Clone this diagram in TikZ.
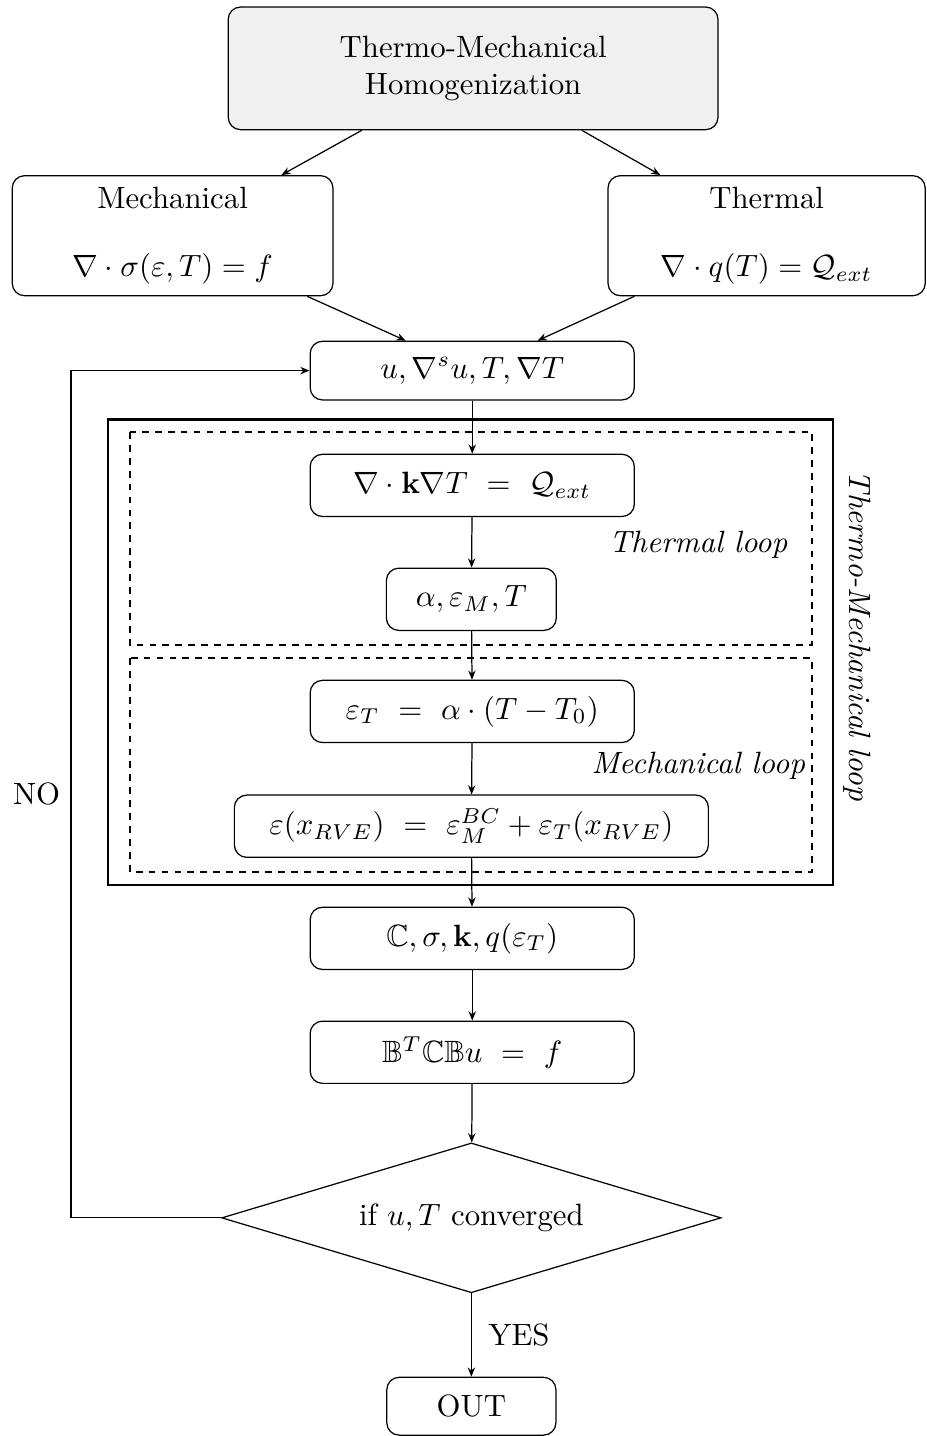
\documentclass[tikz,border=0pt]{standalone}
\usepackage{amsmath,amssymb}
\usepackage{tikz}
\usetikzlibrary{arrows.meta, shapes.geometric, positioning, calc}
\definecolor{boxgray}{HTML}{F0F0F0}

\begin{document}
\begin{tikzpicture}[
    block/.style={draw, rounded corners, align=center, minimum width=3.7cm, minimum height=0.71cm},
    decision/.style={draw, diamond, aspect=3.3, minimum width=5.7cm, minimum height=1.71cm, inner sep=1pt},
    loopbox/.style={draw, semithick, dash pattern=on 2.2pt off 2pt},
    arr/.style={-{Stealth[length=3pt, width=2.4pt]}},
    looplabel/.style={font=\itshape}
  ]
  \useasboundingbox (0,0) rectangle (10.57,-16.39);

  % frames of the loops
  \draw[thick] (1.23,-4.79) rectangle (9.51,-10.10);
  \draw[loopbox] (1.48,-4.93) rectangle (9.27,-7.36);
  \draw[loopbox] (1.48,-7.51) rectangle (9.27,-9.95);

  \node[block, fill=boxgray, minimum width=5.59cm, minimum height=1.40cm] (homog) at (5.40,-0.78) {Thermo-Mechanical\\Homogenization};
  \node[block, minimum width=3.66cm, minimum height=1.37cm] (mech) at (1.97,-2.69) {Mechanical\\[10pt]$\nabla\cdot\sigma(\varepsilon,T)=f$};
  \node[block, minimum width=3.62cm, minimum height=1.37cm] (therm) at (8.75,-2.69) {Thermal\\[10pt]$\nabla\cdot q(T)=\mathcal{Q}_{ext}$};
  \node[block, minimum height=0.67cm] (uvec) at (5.39,-4.23) {$u,\nabla^s u,T,\nabla T$};
  \node[block] (heat) at (5.39,-5.54) {$\nabla\cdot\mathbf{k}\nabla T~=~\mathcal{Q}_{ext}$};
  \node[block, minimum width=1.94cm] (alpha) at (5.38,-6.84) {$\alpha,\varepsilon_M,T$};
  \node[block] (epsT) at (5.39,-8.12) {$\varepsilon_T~=~\alpha\cdot(T-T_0)$};
  \node[block, minimum width=5.41cm] (epsx) at (5.38,-9.43) {$\varepsilon(x_{RVE})~=~\varepsilon_M^{BC}+\varepsilon_T(x_{RVE})$};
  \node[block] (tang) at (5.39,-10.71) {$\mathbb{C},\sigma,\mathbf{k},q(\varepsilon_T)$};
  \node[block] (solve) at (5.39,-12.01) {$\mathbb{B}^T\mathbb{C}\mathbb{B}u~=~f$};
  \node[decision] (conv) at (5.38,-13.90) {if $u,T$ converged};
  \node[block, minimum width=1.93cm, minimum height=0.66cm] (out) at (5.38,-16.05) {OUT};
  \coordinate (back) at (0.81,-13.90);

  \node[looplabel] (thlabel) at (7.97,-6.22) {Thermal loop};
  \node[looplabel] (melabel) at (7.97,-8.74) {Mechanical loop};
  \node[looplabel, rotate=-90] (tmlabel) at (9.78,-7.26) {Thermo-Mechanical loop};

  \draw[arr] (homog) -- (mech);
  \draw[arr] (homog) -- (therm);
  \draw[arr] (mech) -- (uvec);
  \draw[arr] (therm) -- (uvec);
  \draw[arr] (uvec) -- (heat);
  \draw[arr] (heat) -- (alpha);
  \draw[arr] (alpha) -- (epsT);
  \draw[arr] (epsT) -- (epsx);
  \draw[arr] (epsx) -- (tang);
  \draw[arr] (tang) -- (solve);
  \draw[arr] (solve) -- (conv);
  \draw[arr] (conv) -- node[right, xshift=2pt] (yes) {YES} (out);
  \draw[arr] (conv) -- (back) |- node[left, pos=0.25] (no) {NO} (uvec);
\end{tikzpicture}
\end{document}
